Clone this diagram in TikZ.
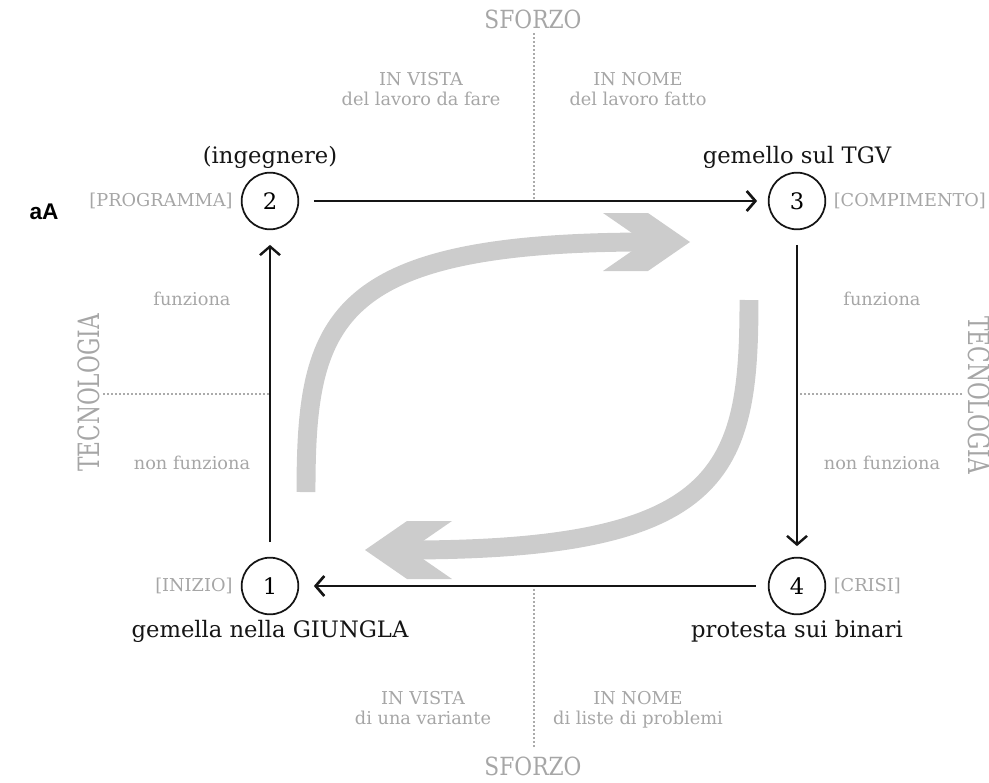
\documentclass[tikz,border=0pt]{standalone}
\usepackage{fontspec}
\setmainfont{DejaVu Serif}
\newfontfamily\markfont{Liberation Sans}
\usetikzlibrary{arrows.meta,positioning}
\definecolor{ink}{HTML}{151515}
\definecolor{muted}{HTML}{A6A6A6}
\definecolor{dots}{HTML}{ABABAB}
\definecolor{swirl}{HTML}{CCCCCC}
\tikzset{
  phase/.style={
    circle, draw=ink, line width=1.3pt,
    minimum size=42.5pt, inner sep=0pt,
    font=\fontsize{17}{20}\selectfont
  },
  caption/.style={text=ink, inner sep=1.5pt, font=\fontsize{17}{20}\selectfont},
  tag/.style={text=muted, inner sep=1pt, font=\fontsize{13.3}{15}\selectfont},
  note/.style={text=muted, align=center, inner sep=0pt, font=\fontsize{13.3}{15}\selectfont},
  axis/.style={text=muted, inner sep=0pt, font=\fontsize{16.3}{18}\selectfont},
  arrow/.style={-{Straight Barb[length=6.5pt,width=15pt]}, line width=1.8pt, draw=ink},
  divider/.style={draw=dots, line width=1.5pt, dash pattern=on 1.4pt off 1.6pt},
  swirlpath/.style={draw=swirl, line width=14.2pt}
}

\begin{document}
\begin{tikzpicture}[x=0.75pt, y=-0.75pt]
  \useasboundingbox (0,0) rectangle (989,782);
  % grey swirl arrows
  \foreach \turn in {0,180} {
    \begin{scope}[rotate around={\turn:(527.5,396)}]
      \coordinate (s0) at (306,492);
      \coordinate (s1) at (690,242);
      \draw[swirlpath] (s0) .. controls (306,320) and (330,242) .. (648,242);
      \fill[swirl] (s1) -- ++(-42,-29) -- ++(-45,0) -- ++(42,29) -- ++(-42,29) -- ++(45,0) -- cycle;
    \end{scope}
  }
  % phases
  \node[phase] (p2) at (270,201) {2};
  \node[phase] (p3) at (797,201) {3};
  \node[phase] (p1) at (270,586) {1};
  \node[phase] (p4) at (797,586) {4};
  \node[caption, above=1pt of p2] (c2) {(ingegnere)};
  \node[caption, above=1pt of p3] (c3) {gemello sul TGV};
  \node[caption, below=2pt of p1] (c1) {gemella nella GIUNGLA};
  \node[caption, below=2pt of p4] (c4) {protesta sui binari};
  \node[tag, left=5pt of p2] (t2) {[PROGRAMMA]};
  \node[tag, right=4.5pt of p3] (t3) {[COMPIMENTO]};
  \node[tag, left=5pt of p1] (t1) {[INIZIO]};
  \node[tag, right=4.5pt of p4] (t4) {[CRISI]};
  % axes
  \coordinate (sftop) at (534,33);
  \coordinate (sfbot) at (534,747);
  \coordinate (tcl) at (103,394);
  \coordinate (tcr) at (962,394);
  \draw[divider] (sftop) -- (sftop |- p2);
  \draw[divider] (sfbot) -- (sfbot |- p1);
  \draw[divider] (tcl) -- (tcl -| p1);
  \draw[divider] (tcr) -- (tcr -| p3);
  \node[axis] (sfn) at (533,19) {\scalebox{1}[1.15]{SFORZO}};
  \node[axis] (sfs) at (533,766) {\scalebox{1}[1.15]{SFORZO}};
  \node[axis, rotate=90] (tcw) at (89,393) {\scalebox{1}[1.35]{TECNOLOGIA}};
  \node[axis, rotate=-90] (tce) at (979,395) {\scalebox{1}[1.35]{TECNOLOGIA}};
  \node[note] (vn) at (421,89) {IN VISTA\\del lavoro da fare};
  \node[note] (nn) at (638,89) {IN NOME\\del lavoro fatto};
  \node[note] (vs) at (423,708) {IN VISTA\\di una variante};
  \node[note] (ns) at (638,710) {IN NOME\\di liste di problemi};
  \node[tag] (fw) at (192,299) {funziona};
  \node[tag] (nw) at (192,463) {non funziona};
  \node[tag] (fe) at (882,299) {funziona};
  \node[tag] (ne) at (882,463) {non funziona};
  \node[font=\markfont\bfseries\fontsize{17}{17}\selectfont] (mark) at (44,212) {aA};
  % cycle
  \draw[arrow, line width=2pt, shorten <=11pt, shorten >=8pt] (p2) -- (p3);
  \draw[arrow, shorten <=11pt, shorten >=8pt] (p3) -- (p4);
  \draw[arrow, line width=2pt, shorten <=9pt, shorten >=11pt] (p4) -- (p1);
  \draw[arrow, shorten <=11pt, shorten >=11pt] (p1) -- (p2);
\end{tikzpicture}
\end{document}
